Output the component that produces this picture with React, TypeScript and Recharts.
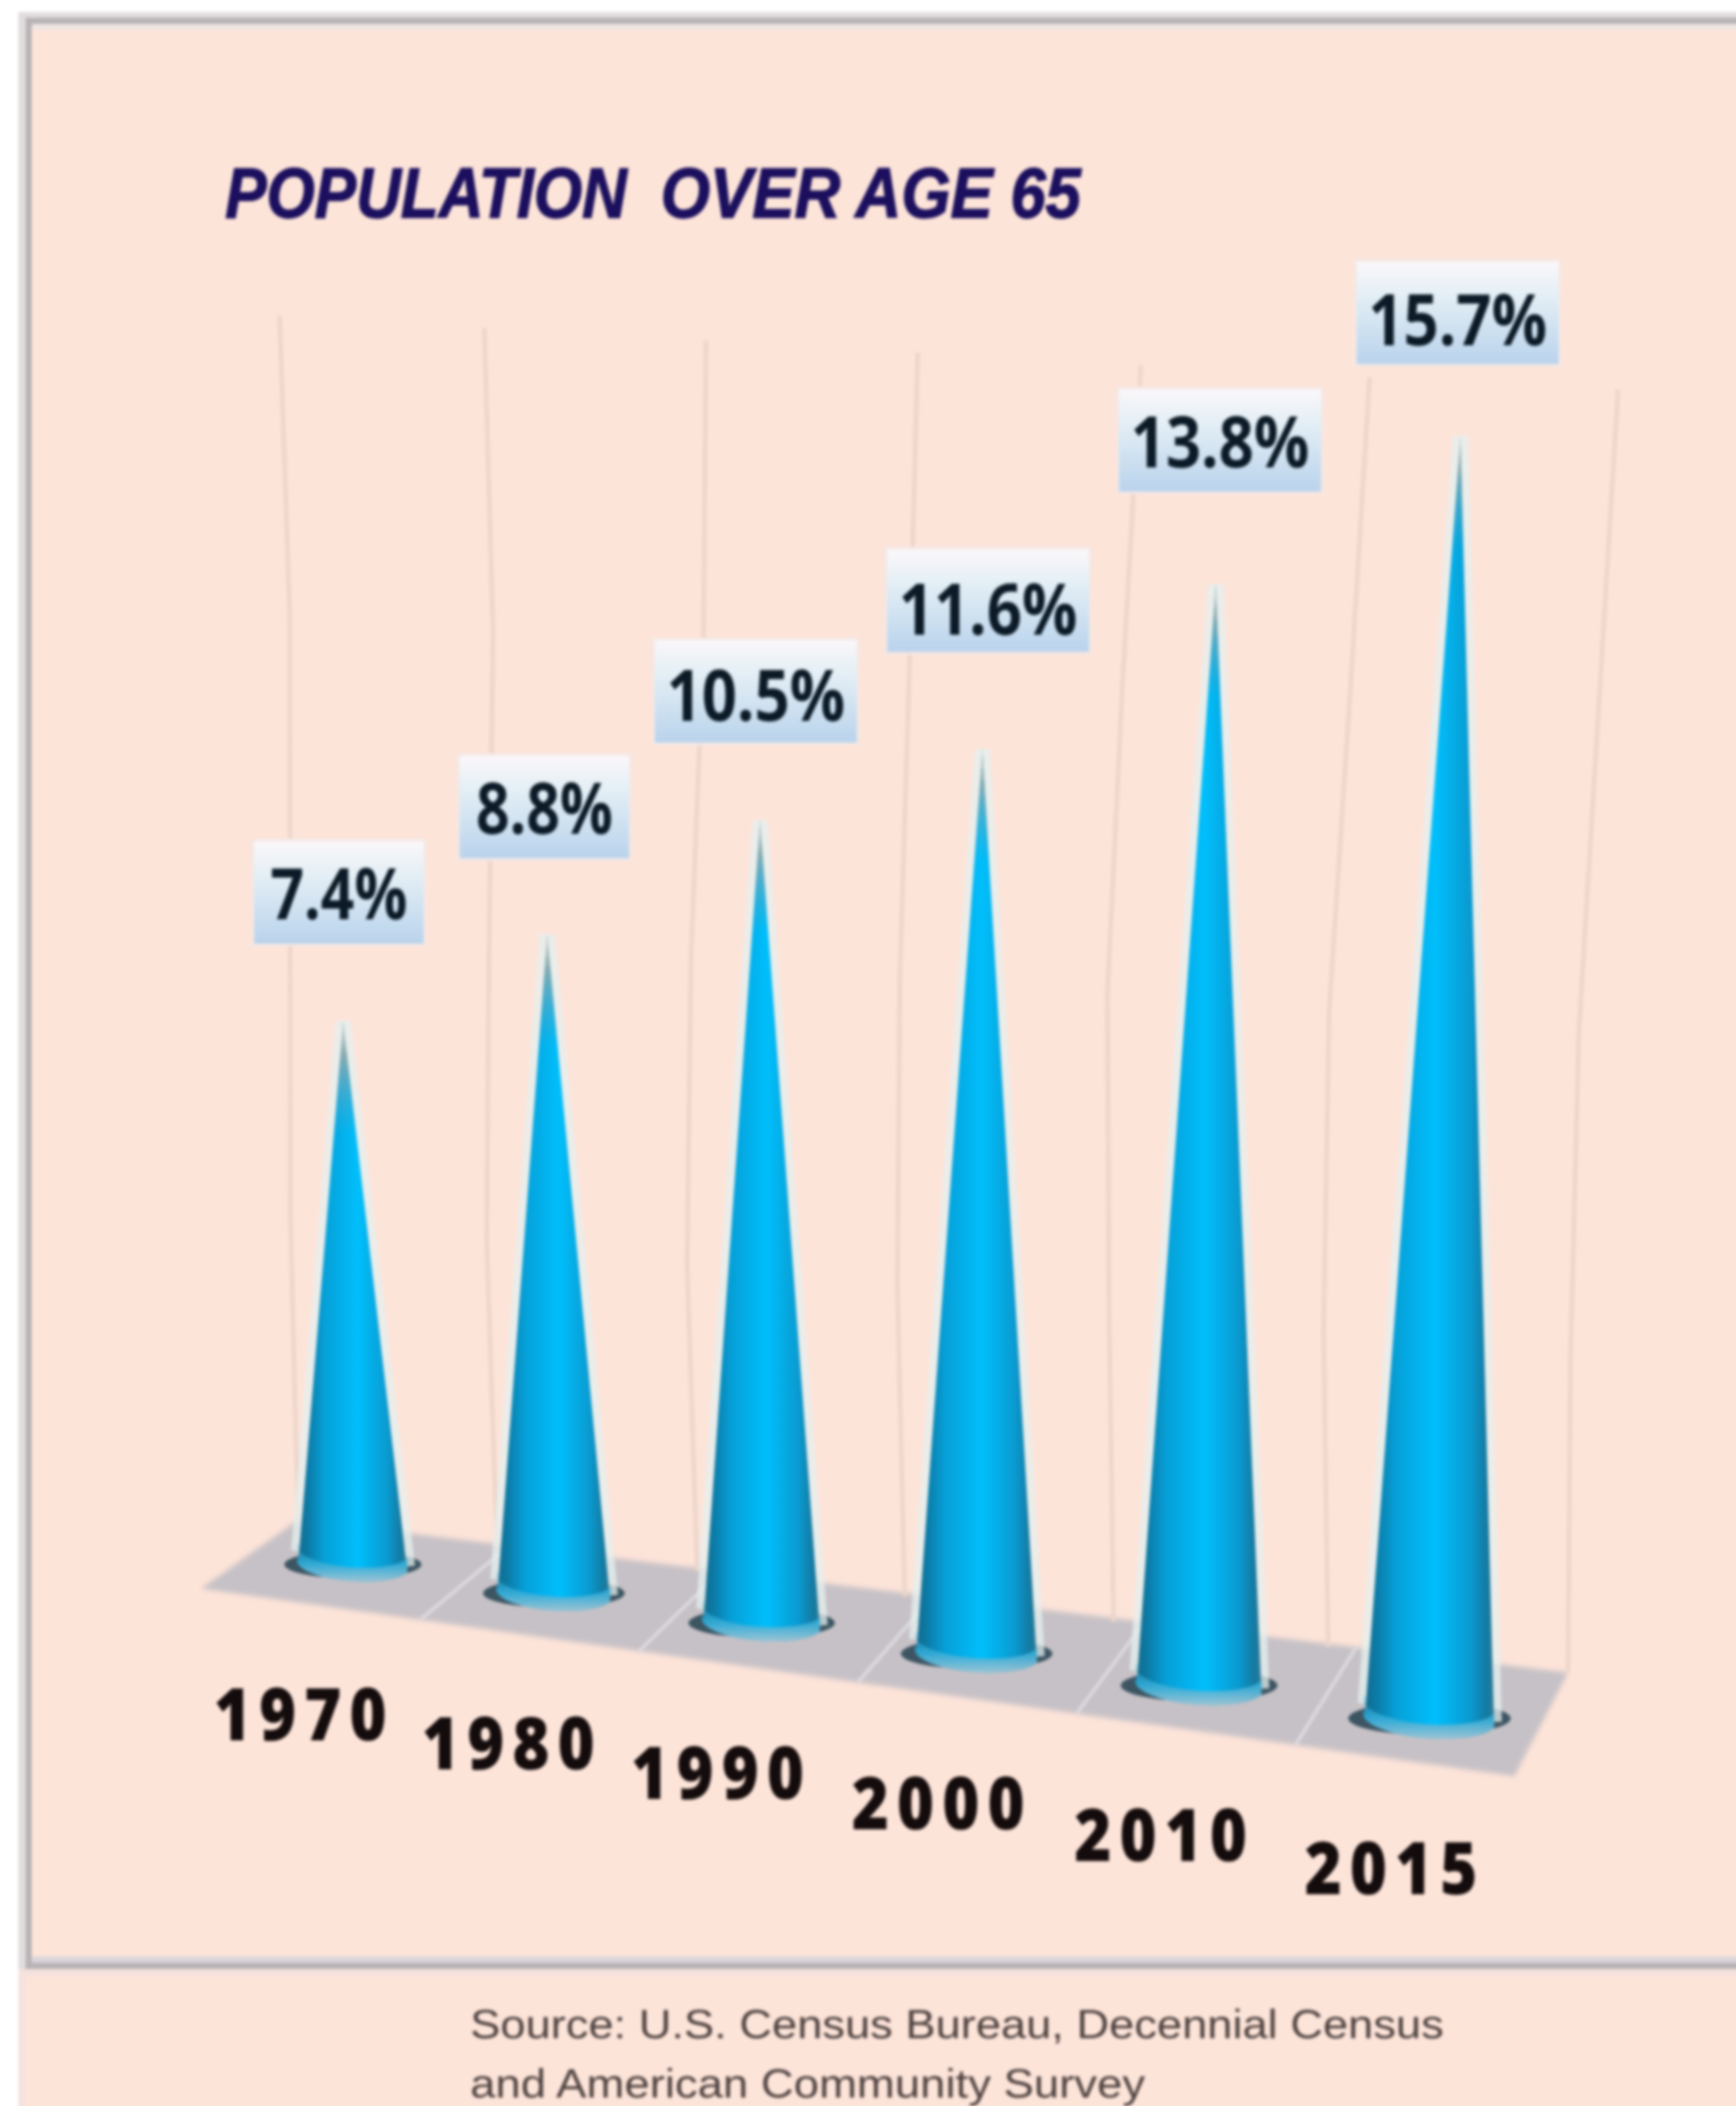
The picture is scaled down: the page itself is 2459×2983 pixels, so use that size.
import React from 'react';
import { BarChart, Bar, XAxis, YAxis, LabelList } from 'recharts';

const years = ['1970', '1980', '1990', '2000', '2010', '2015'];
const shares = [7.4, 8.8, 10.5, 11.6, 13.8, 15.7];
const sourceLines = ['Source: U.S. Census Bureau, Decennial Census', 'and American Community Survey'];

const chartData = years.map((year, i) => ({ year, share: shares[i] }));

const WIDTH = 2459;
const HEIGHT = 2983;
const MARGIN = { top: 500, right: 300, bottom: 500, left: 300 };
const AXIS_H = 10;
const PLOT_W = WIDTH - MARGIN.left - MARGIN.right;
const PLOT_H = HEIGHT - MARGIN.top - MARGIN.bottom - AXIS_H;
const BAND = PLOT_W / years.length;
const SPAN = PLOT_W - BAND;
const MAX_SHARE = 15.7;

// the picture is a tilted 3D chart: plot coordinates go through this quad
const BL = [500, 2216];
const BR = [2025, 2434];
const TR = [2069, 618];
const TL = [470, 545];

const dx1 = BR[0] - TR[0];
const dy1 = BR[1] - TR[1];
const dx2 = TL[0] - TR[0];
const dy2 = TL[1] - TR[1];
const sx = BL[0] - BR[0] + TR[0] - TL[0];
const sy = BL[1] - BR[1] + TR[1] - TL[1];
const den = dx1 * dy2 - dx2 * dy1;
const g = (sx * dy2 - dx2 * sy) / den;
const h = (dx1 * sy - sx * dy1) / den;

const project = (u: number, v: number) => {
  const w = g * u + h * v + 1;
  return {
    x: ((BR[0] - BL[0] + g * BR[0]) * u + (TL[0] - BL[0] + h * TL[0]) * v + BL[0]) / w,
    y: ((BR[1] - BL[1] + g * BR[1]) * u + (TL[1] - BL[1] + h * TL[1]) * v + BL[1]) / w,
  };
};

const toU = (px: number) => (px - MARGIN.left - BAND / 2) / SPAN;

// floor and back wall, drawn behind the cones
const FLOOR_FL = [285, 2250];
const FLOOR_FR = [2145, 2516];
const FLOOR_BR = [2221, 2369];
const FLOOR_BL = [422, 2153];
const WALL_TL = [396, 447];
const WALL_TR = [2292, 552];
const wallWobble = [
  [0, 8, 2, -4, 0],
  [-26, -16, -24, -30, -18],
  [-28, -30, -46, -50, -34],
  [-44, -50, -58, -56, -40],
  [-44, -60, -72, -60, -44],
  [-36, -50, -66, -60, -40],
  [0, -10, -20, -14, 0],
];

// label boxes and year ticks do not sit quite regularly in the original
const labelLift = [183, 181, 183, 211, 204, 175];
const labelShift = [-6, -4, -6, 8, 6, -4];
const labelDrop = [38, 38, 42, 48, 38, 46];
const yearShift = [-20, -10, -8, 0, 0, 0];

const lerp = (a: number[], b: number[], t: number) => [a[0] + (b[0] - a[0]) * t, a[1] + (b[1] - a[1]) * t];

const Backdrop = () => (
  <g>
    <polygon
      points={[FLOOR_FL, FLOOR_BL, FLOOR_BR, FLOOR_FR].map((p) => p.join(',')).join(' ')}
      fill="#c6c1c6"
      style={{ filter: 'blur(3px)' }}
    />
    {[1, 2, 3, 4, 5].map((i) => {
      const a = lerp(FLOOR_FL, FLOOR_FR, i / 6);
      const b = lerp(FLOOR_BL, FLOOR_BR, i / 6);
      return <line key={i} x1={a[0]} y1={a[1]} x2={b[0]} y2={b[1]} stroke="#dcd9e0" strokeWidth={5} />;
    })}
    {wallWobble.map((wob, i) => {
      const top = lerp(WALL_TL, WALL_TR, i / 6);
      const bottom = lerp(FLOOR_BL, FLOOR_BR, i / 6);
      const pts = wob.map((off, k) => {
        const p = lerp(top, bottom, k / (wob.length - 1));
        return `${p[0] + off},${p[1]}`;
      });
      return <polyline key={i} points={pts.join(' ')} fill="none" stroke="#ecd5ca" strokeWidth={6} />;
    })}
  </g>
);

const Cone = (props: any) => {
  const { x, width, height } = props;
  const u = toU(x + width / 2);
  const du = width / 2 / SPAN;
  const tip = project(u, height / PLOT_H);
  const left = project(u - du, 0);
  const right = project(u + du, 0);
  const c = project(u, 0);
  const rx = Math.hypot(right.x - left.x, right.y - left.y) / 2;
  const ry = rx * 0.3;
  const rot = (Math.atan2(right.y - left.y, right.x - left.x) * 90) / Math.PI;
  const body = `M${tip.x},${tip.y} L${left.x},${left.y} A${rx},${ry} ${rot} 0 0 ${right.x},${right.y} Z`;
  const tipLen = 160;
  const t = tipLen / (c.y - tip.y);
  const tipPath = `M${tip.x},${tip.y} L${tip.x + (left.x - tip.x) * t},${tip.y + tipLen} L${tip.x + (right.x - tip.x) * t},${tip.y + tipLen} Z`;
  return (
    <g>
      <ellipse cx={c.x} cy={c.y} rx={rx * 1.25} ry={ry * 0.85} fill="#3d5562" />
      <path
        d={`M${left.x},${left.y - 8} L${tip.x},${tip.y} L${right.x},${right.y - 8}`}
        fill="none"
        stroke="#e4f0ef"
        strokeWidth={22}
        strokeOpacity={0.75}
      />
      <path d={body} fill="url(#coneFill)" />
      <path
        d={`M${left.x},${left.y} A${rx},${ry} ${rot} 0 0 ${right.x},${right.y} L${right.x},${right.y - 20} A${rx},${ry} ${rot} 0 1 ${left.x},${left.y - 20} Z`}
        fill="url(#coneFoot)"
      />
      <path d={tipPath} fill="url(#tipFade)" />
    </g>
  );
};

const ValueBox = (props: any) => {
  const { x, width, height, value, index } = props;
  const tip = project(toU(x + width / 2), height / PLOT_H);
  const text = `${value}%`;
  const textW = 194 + (text.length - 4) * 59;
  const boxW = 240 + (text.length - 4) * 46;
  const boxH = 145;
  const cx = tip.x + labelShift[index];
  const cy = tip.y - labelLift[index];
  return (
    <g>
      <rect x={cx - boxW / 2 - 4} y={cy - boxH / 2 - 4} width={boxW + 8} height={boxH + 8} fill="#f4e8e4" />
      <rect x={cx - boxW / 2} y={cy - boxH / 2} width={boxW} height={boxH} fill="url(#labelFill)" />
      <text
        x={cx - textW / 2}
        y={cy + labelDrop[index]}
        textLength={textW}
        lengthAdjust="spacingAndGlyphs"
        fontFamily="'Open Sans'"
        fontWeight={700}
        fontSize={100}
        fill="#0b1a26"
      >
        {text}
      </text>
    </g>
  );
};

const YearTick = (props: any) => {
  const { x, payload, index } = props;
  const base = project(toU(x), 0);
  const tx = base.x - 58 - 119 + yearShift[index];
  return (
    <text
      transform={`translate(${tx},${base.y + 249}) scale(0.88,1)`}
      letterSpacing={13}
      fontFamily="'Open Sans'"
      fontWeight={800}
      fontSize={102}
      fill="#140c0c"
    >
      {payload.value}
    </text>
  );
};

export default function App() {
  return (
    <div style={{ position: 'absolute', left: 0, top: 0, width: WIDTH, height: HEIGHT, overflow: 'hidden' }}>
      <div style={{ position: 'absolute', left: 0, top: 0, width: WIDTH + 30, height: HEIGHT + 30, background: '#fde4d9', overflow: 'hidden', filter: 'blur(2.2px)' }}>
        <div style={{ position: 'absolute', left: 0, top: 0, width: WIDTH + 30, height: 17, background: '#fff' }} />
        <div style={{ position: 'absolute', left: 0, top: 0, width: 26, height: HEIGHT + 30, background: '#fff' }} />
        <div style={{ position: 'absolute', left: 26, top: 2789, width: 9, height: HEIGHT, background: '#f3e3de' }} />
        <div style={{ position: 'absolute', left: 26, top: 2789, width: WIDTH, height: 10, background: '#f5e2dc' }} />
        <div style={{ position: 'absolute', left: 26, top: 17, width: WIDTH + 40, height: 2772, boxSizing: 'border-box', border: '9px solid #e1dddf' }} />
        <div style={{ position: 'absolute', left: 36, top: 25, width: WIDTH + 40, height: 2764, boxSizing: 'border-box', border: '9px solid #b8b3b6' }} />
        <div style={{ position: 'absolute', left: 45, top: 34, width: WIDTH, height: 8, background: '#eee6e3' }} />
        <div style={{ position: 'absolute', left: 45, top: 2771, width: WIDTH, height: 9, background: '#dcd6da' }} />
        <div style={{ position: 'absolute', left: 0, top: 0 }}>
          <BarChart width={WIDTH} height={HEIGHT} data={chartData} margin={MARGIN} barCategoryGap="22.5%">
            <defs>
              <linearGradient id="coneFill" x1="0" y1="0" x2="1" y2="0">
                <stop offset="0" stopColor="#14688a" />
                <stop offset="0.1" stopColor="#0c7ba6" />
                <stop offset="0.25" stopColor="#06a0d8" />
                <stop offset="0.55" stopColor="#00bffc" />
                <stop offset="0.82" stopColor="#0a9ad0" />
                <stop offset="0.94" stopColor="#147aa2" />
                <stop offset="1" stopColor="#2a7a98" />
              </linearGradient>
              <linearGradient id="coneFoot" x1="0" y1="0" x2="0" y2="1">
                <stop offset="0" stopColor="#22a4d6" stopOpacity={0.2} />
                <stop offset="0.55" stopColor="#37aed8" stopOpacity={0.9} />
                <stop offset="1" stopColor="#a4c4d2" stopOpacity={0.95} />
              </linearGradient>
              <linearGradient id="tipFade" x1="0" y1="0" x2="0" y2="1">
                <stop offset="0" stopColor="#e6d8cc" stopOpacity={1} />
                <stop offset="0.3" stopColor="#96aaaa" stopOpacity={0.9} />
                <stop offset="1" stopColor="#4f9fbd" stopOpacity={0} />
              </linearGradient>
              <linearGradient id="labelFill" x1="0" y1="0" x2="0" y2="1">
                <stop offset="0" stopColor="#fbf7fa" />
                <stop offset="0.3" stopColor="#e6f0f6" />
                <stop offset="1" stopColor="#b9d3ec" />
              </linearGradient>
            </defs>
            <Backdrop />
            <g fontFamily="'Liberation Sans'" fontWeight={700} fontStyle="italic" fontSize={100} fill="#1b0f5e" stroke="#1b0f5e" strokeWidth={2}>
              <text x={319} y={308} textLength={569} lengthAdjust="spacingAndGlyphs">POPULATION</text>
              <text x={936} y={308} textLength={595} lengthAdjust="spacingAndGlyphs">OVER AGE 65</text>
            </g>
            <XAxis dataKey="year" height={AXIS_H} axisLine={false} tickLine={false} interval={0} tick={<YearTick />} />
            <YAxis hide domain={[0, MAX_SHARE]} />
            <Bar dataKey="share" shape={<Cone />} isAnimationActive={false}>
              <LabelList dataKey="share" content={<ValueBox />} />
            </Bar>
            {sourceLines.map((line, i) => (
              <text key={line} x={666} y={2887 + i * 84} textLength={i === 0 ? 1379 : 956} lengthAdjust="spacingAndGlyphs" fontFamily="'Liberation Sans'" fontSize={58} fill="#4c403e">
                {line}
              </text>
            ))}
          </BarChart>
        </div>
      </div>
    </div>
  );
}
